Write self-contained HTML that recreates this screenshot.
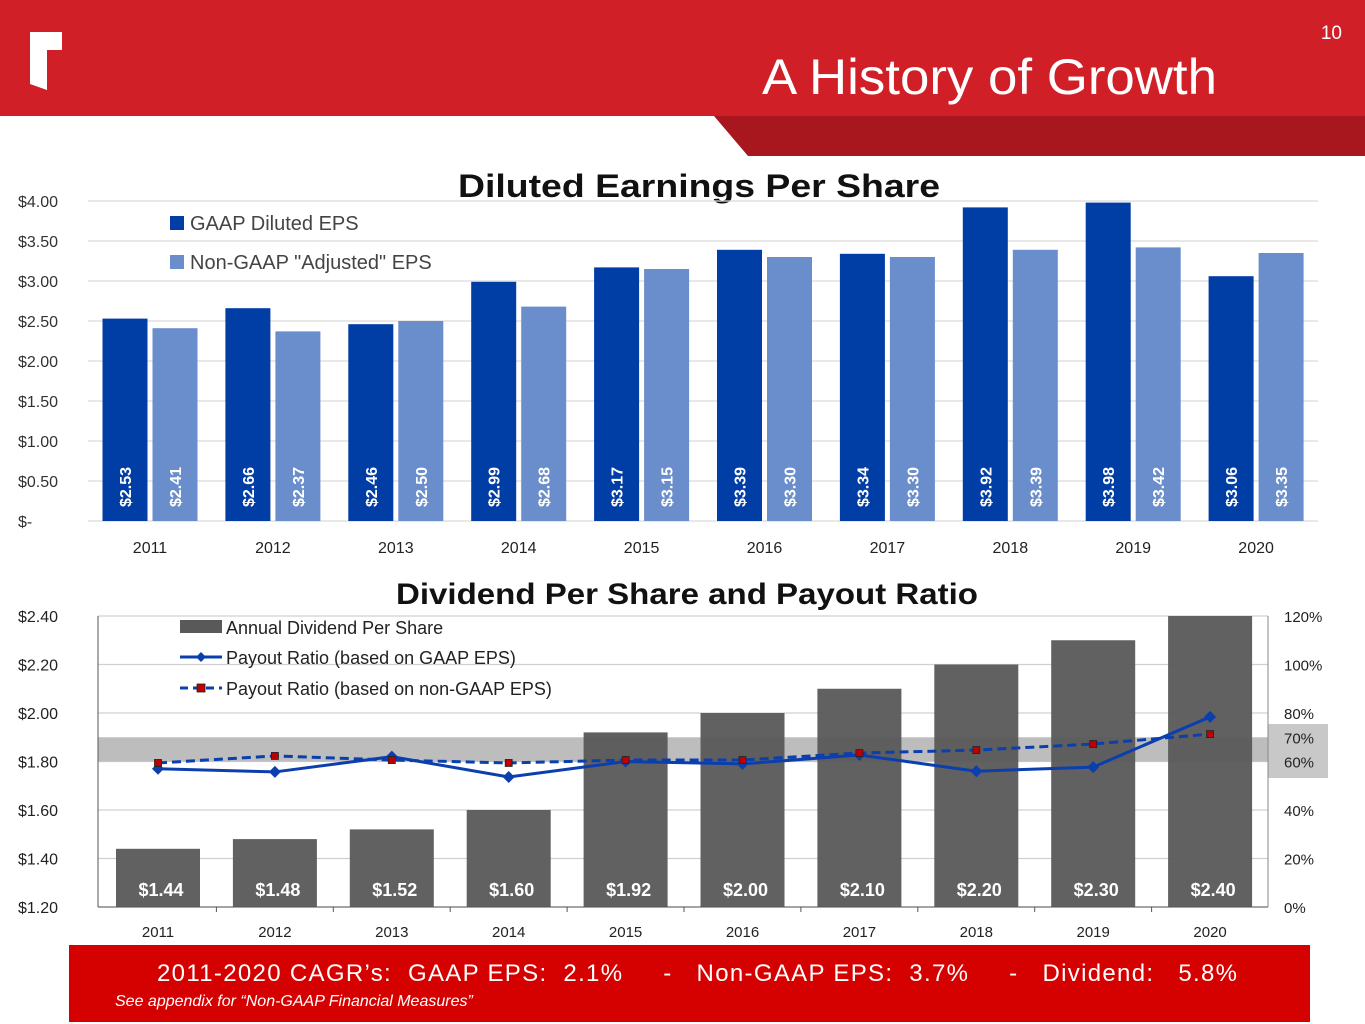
<!DOCTYPE html>
<html><head><meta charset="utf-8"><style>
html,body{margin:0;padding:0;background:#fff;}
svg{display:block;}
text{font-family:"Liberation Sans",sans-serif;}
</style></head><body>
<svg id="s" width="1365" height="1024" viewBox="0 0 1365 1024" xmlns="http://www.w3.org/2000/svg">
<rect x="0" y="0" width="1365" height="116" fill="#d01f27"/>
<polygon points="714,116 1365,116 1365,156 748,156" fill="#a8171d"/>
<polygon points="30,32 62,32 62,50 47,50 47,90 30,84" fill="#fff"/>
<text x="1342" y="39" font-size="19" fill="#fff" text-anchor="end">10</text>
<text x="762" y="94" font-size="50" fill="#fff" textLength="455" lengthAdjust="spacingAndGlyphs">A History of Growth</text>

<text x="458" y="197" font-size="32" font-weight="bold" fill="#111" textLength="482" lengthAdjust="spacingAndGlyphs">Diluted Earnings Per Share</text>
<g id="c1"></g>
<text x="396" y="604" font-size="30" font-weight="bold" fill="#111" textLength="582" lengthAdjust="spacingAndGlyphs">Dividend Per Share and Payout Ratio</text>
<g id="c2"></g>

<rect x="69" y="945" width="1241" height="77" fill="#d50000"/>
<text x="157" y="981" font-size="24" fill="#fff" textLength="1080" lengthAdjust="spacing" xml:space="preserve">2011-2020 CAGR’s:  GAAP EPS:  2.1%     -   Non-GAAP EPS:  3.7%     -   Dividend:   5.8%</text>
<text x="115" y="1006" font-size="16" font-style="italic" fill="#fff">See appendix for “Non-GAAP Financial Measures”</text>
</svg>
<script>
const years = ["2011","2012","2013","2014","2015","2016","2017","2018","2019","2020"];
const gaapEps = [2.53,2.66,2.46,2.99,3.17,3.39,3.34,3.92,3.98,3.06];
const nonGaapEps = [2.41,2.37,2.50,2.68,3.15,3.30,3.30,3.39,3.42,3.35];
const epsTicks = [0,0.5,1,1.5,2,2.5,3,3.5,4];
const epsTickLabels = ["$-","$0.50","$1.00","$1.50","$2.00","$2.50","$3.00","$3.50","$4.00"];
const dividends = [1.44,1.48,1.52,1.60,1.92,2.00,2.10,2.20,2.30,2.40];
const payoutGaap = [57,55.7,62,53.6,60,59,62.7,56,57.7,78.4];
const payoutNonGaap = [59.4,62.3,60.6,59.4,60.6,60.6,63.5,64.7,67.2,71.3];
const divTicks = [1.2,1.4,1.6,1.8,2.0,2.2,2.4];
const divTickLabels = ["$1.20","$1.40","$1.60","$1.80","$2.00","$2.20","$2.40"];
const pctTicks = [0,20,40,60,70,80,100,120];
const pctTickLabels = ["0%","20%","40%","60%","70%","80%","100%","120%"];

const NS="http://www.w3.org/2000/svg";
function mk(parent,tag,attrs,txt){const e=document.createElementNS(NS,tag);for(const k in attrs)e.setAttribute(k,attrs[k]);if(txt!==undefined)e.textContent=txt;parent.appendChild(e);return e;}

// Chart 1
const c1=document.getElementById('c1');
const y1=v=>521-v*80;
const x1=i=>150+i*122.9;
epsTicks.forEach((t,i)=>{
  const gl=mk(c1,'line',{x1:88,x2:1318,y1:y1(t),y2:y1(t),stroke:'#d9d9d9','stroke-width':1.3});
  
  
  const tl=mk(c1,'text',{x:18,y:y1(t)+6,'font-size':16,fill:'#333'},epsTickLabels[i]);
  
  
});
years.forEach((yr,i)=>{
  const cx=x1(i);
  [[gaapEps[i],cx-47.5,'#003da5','eps-gaap-bar'],[nonGaapEps[i],cx+2.5,'#6a8ecb','eps-nongaap-bar']].forEach(([v,x,col,nm])=>{
    const b=mk(c1,'rect',{x:x,y:y1(v),width:45,height:v*80,fill:col});
    
    
    const t=mk(c1,'text',{transform:`translate(${x+28.5},507) rotate(-90)`,'font-size':16,'font-weight':'bold',fill:'#fff'},'$'+v.toFixed(2));
    
    
  });
  const xl=mk(c1,'text',{x:cx,y:553,'font-size':16,fill:'#222','text-anchor':'middle'},yr);
  
  
});
[[216,'#003da5','GAAP Diluted EPS'],[255,'#6a8ecb','Non-GAAP "Adjusted" EPS']].forEach(([y,c,l])=>{
  const r=mk(c1,'rect',{x:170,y:y,width:14,height:14,fill:c});
  
  
  const t=mk(c1,'text',{x:190,y:y+14,'font-size':20,fill:'#444'},l);
  
  
});

// Chart 2
const c2=document.getElementById('c2');
const y2=v=>907-(v-1.2)*242.5;
const yp=p=>907-p*2.425;
const x2=i=>158+i*116.9;
divTicks.forEach((t,i)=>{
  const gl=mk(c2,'line',{x1:98,x2:1268,y1:y2(t),y2:y2(t),stroke:'#d0d0d0','stroke-width':1.2});
  
  
  const tl=mk(c2,'text',{x:18,y:y2(t)+6,'font-size':16,fill:'#222'},divTickLabels[i]);
  
  
});
const band=mk(c2,'rect',{x:98,y:yp(70),width:1170,height:yp(60)-yp(70),fill:'#bdbdbd'});


const bandLbl=mk(c2,'rect',{x:1268,y:724,width:60,height:54,fill:'#c8c8c8'});


mk(c2,'line',{x1:98,x2:98,y1:616,y2:907,stroke:'#555'});
mk(c2,'line',{x1:98,x2:1268,y1:907,y2:907,stroke:'#555'});
mk(c2,'line',{x1:1268,x2:1268,y1:616,y2:907,stroke:'#888'});
pctTicks.forEach((t,i)=>{
  const tl=mk(c2,'text',{x:1284,y:yp(t)+6,'font-size':15,fill:'#222'},pctTickLabels[i]);
  
  
});
years.forEach((yr,i)=>{
  const cx=x2(i);
  const b=mk(c2,'rect',{x:cx-42,y:y2(dividends[i]),width:84,height:907-y2(dividends[i]),fill:'#595959','fill-opacity':0.95});
  
  
  const t=mk(c2,'text',{x:cx+3,y:896,'font-size':18,'font-weight':'bold',fill:'#fff','text-anchor':'middle'},'$'+dividends[i].toFixed(2));
  
  
  const xl=mk(c2,'text',{x:cx,y:937,'font-size':15,fill:'#222','text-anchor':'middle'},yr);
  
  
  if(i>0){mk(c2,'line',{x1:cx-58.5,x2:cx-58.5,y1:907,y2:912,stroke:'#555'});}
});
const lg=mk(c2,'polyline',{points:payoutGaap.map((p,i)=>x2(i)+','+yp(p)).join(' '),fill:'none',stroke:'#0b3fae','stroke-width':3});


const ln=mk(c2,'polyline',{points:payoutNonGaap.map((p,i)=>x2(i)+','+yp(p)).join(' '),fill:'none',stroke:'#0b3fae','stroke-width':3,'stroke-dasharray':'9,5'});


payoutGaap.forEach((p,i)=>{
  const m=mk(c2,'polygon',{points:`${x2(i)},${yp(p)-6} ${x2(i)+6},${yp(p)} ${x2(i)},${yp(p)+6} ${x2(i)-6},${yp(p)}`,fill:'#0b3fae'});
  
  
});
payoutNonGaap.forEach((p,i)=>{
  const m=mk(c2,'rect',{x:x2(i)-3.5,y:yp(p)-3.5,width:7,height:7,fill:'#c00000',stroke:'#222','stroke-width':0.8});
  
  
});
// legend
const ls=mk(c2,'rect',{x:180,y:620,width:42,height:13,fill:'#595959'});


[[634,'Annual Dividend Per Share'],[664,'Payout Ratio (based on GAAP EPS)'],[695,'Payout Ratio (based on non-GAAP EPS)']].forEach(([y,l])=>{
  const t=mk(c2,'text',{x:226,y:y,'font-size':18,fill:'#222'},l);
  
  
});
mk(c2,'line',{x1:180,x2:222,y1:657,y2:657,stroke:'#0b3fae','stroke-width':3});
mk(c2,'polygon',{points:'201,652 206,657 201,662 196,657',fill:'#0b3fae'});
mk(c2,'line',{x1:180,x2:222,y1:688,y2:688,stroke:'#0b3fae','stroke-width':3,'stroke-dasharray':'8,5'});
mk(c2,'rect',{x:197,y:684,width:8,height:8,fill:'#c00000',stroke:'#222','stroke-width':0.8});
</script>
</body></html>
